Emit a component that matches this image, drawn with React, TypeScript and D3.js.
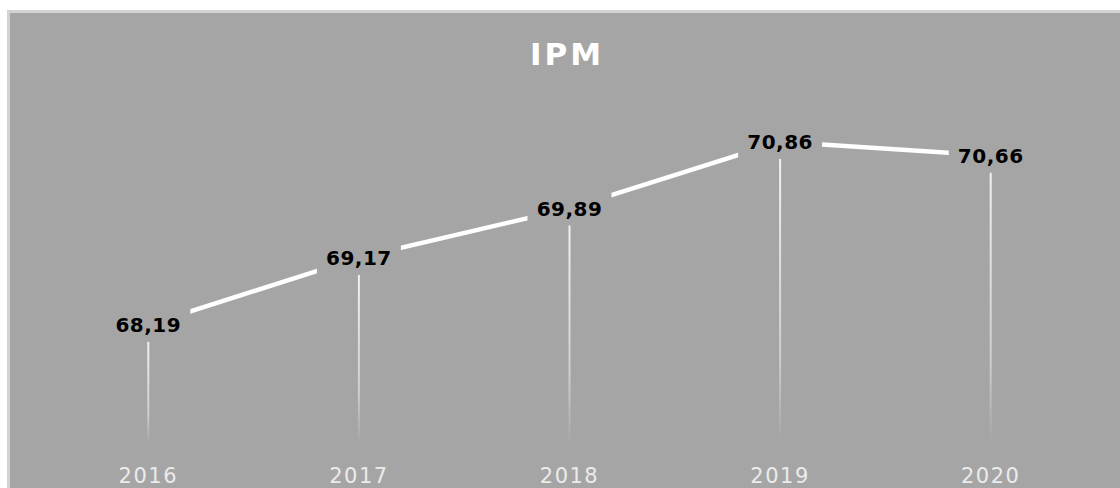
import React from 'react';
import * as d3 from 'd3';

const years = ['2016', '2017', '2018', '2019', '2020'];
const ipm = [68.19, 69.17, 69.89, 70.86, 70.66];
const valueLabels = ['68,19', '69,17', '69,89', '70,86', '70,66'];
const chartTitle = 'IPM';

const width = 1120;
const height = 488;
const bg = '#a5a5a5';

const App: React.FC = () => {
  const x = d3.scaleBand<string>().domain(years).range([43, 1096]);
  const y = d3.scaleLinear().domain([66.45, 71.5]).range([444, 98]);
  const cx = (d: string) => (x(d) ?? 0) + x.bandwidth() / 2;

  const line = d3.line<number>()
    .x((_, i) => cx(years[i]))
    .y(d => y(d));

  const font = 'DejaVu Sans, Verdana, sans-serif';

  return (
    <div style={{ position: 'absolute', left: 0, top: 0 }}>
      <svg width={width} height={height} style={{ display: 'block' }}>
        <defs>
          <linearGradient id="drop" x1="0" y1="0" x2="0" y2="1">
            <stop offset="0%" stopColor="#ffffff" stopOpacity={0.85} />
            <stop offset="70%" stopColor="#ffffff" stopOpacity={0.45} />
            <stop offset="100%" stopColor="#ffffff" stopOpacity={0} />
          </linearGradient>
        </defs>
        <rect x={0} y={0} width={width} height={height} fill="#ffffff" />
        {/* chart frame */}
        <rect x={7} y={10} width={width - 7} height={height - 10} fill="#d3d3d3" />
        <rect x={10} y={13} width={width - 10} height={height - 13} fill={bg} />

        <text x={567} y={65} textAnchor="middle" fill="#ffffff"
          fontFamily={font} fontWeight="bold" fontSize={31} letterSpacing={3}>
          {chartTitle}
        </text>

        {/* drop lines */}
        {ipm.map((v, i) => (
          <rect key={`drop-${years[i]}`} x={cx(years[i]) - 1} y={y(v) + 17}
            width={2} height={444 - (y(v) + 17)} fill="url(#drop)" />
        ))}

        <path d={line(ipm) ?? ''} fill="none" stroke="#ffffff" strokeWidth={4.5} />

        {/* data labels with background boxes */}
        {ipm.map((v, i) => (
          <g key={`lbl-${years[i]}`} transform={`translate(${cx(years[i])},${y(v)})`}>
            <rect x={-42} y={-16} width={84} height={33} fill={bg} />
            <text textAnchor="middle" dy="0.36em" fill="#000000"
              fontFamily={font} fontWeight="bold" fontSize={20} letterSpacing={0.5}>
              {valueLabels[i]}
            </text>
          </g>
        ))}

        {/* x axis labels */}
        {years.map(d => (
          <text key={`x-${d}`} x={cx(d)} y={483} textAnchor="middle" fill="#ebebeb"
            fontFamily={font} fontSize={21} letterSpacing={1.5}>
            {d}
          </text>
        ))}
      </svg>
    </div>
  );
};

export default App;
